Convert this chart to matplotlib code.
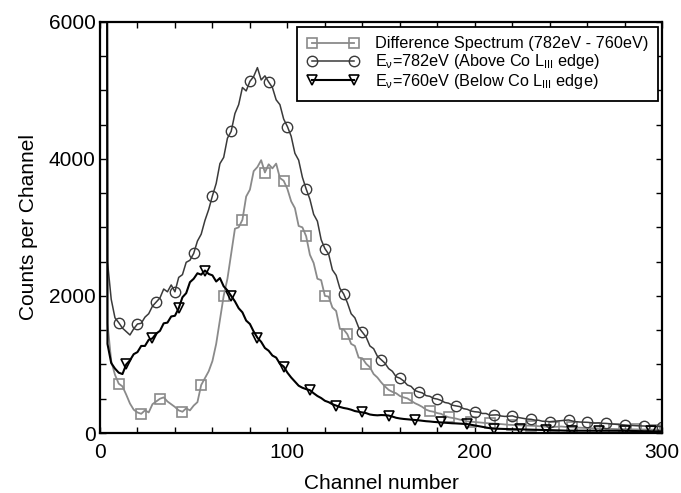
import numpy as np
from matplotlib import pyplot as plt
from matplotlib.ticker import MultipleLocator

plt.rcParams['font.family'] = ['Liberation Sans', 'DejaVu Sans']
plt.rcParams['mathtext.fontset'] = 'custom'
plt.rcParams['mathtext.rm'] = 'Liberation Sans'
plt.rcParams['mathtext.it'] = 'Liberation Sans:italic'

# channel numbers (every second channel)
channels = np.arange(2, 301, 2)

# E = 782 eV, above Co L_III edge
above_782 = [
    60000, 2500, 1950, 1680, 1610, 1530, 1480, 1430, 1520, 1590,
    1600, 1690, 1740, 1850, 1910, 1970, 2100, 2060, 2160, 2060,
    2270, 2310, 2490, 2520, 2620, 2800, 2900, 3100, 3260, 3460,
    3640, 3930, 4020, 4300, 4400, 4660, 4790, 5040, 4990, 5130,
    5200, 5330, 5150, 5210, 5120, 5040, 4860, 4790, 4580, 4470,
    4330, 4080, 3980, 3730, 3560, 3410, 3190, 3090, 2820, 2690,
    2610, 2380, 2300, 2110, 2030, 1900, 1740, 1680, 1540, 1470,
    1400, 1270, 1230, 1120, 1070, 1020, 940, 900, 820, 800,
    760, 700, 680, 620, 600, 585, 545, 535, 505, 495,
    475, 445, 435, 405, 395, 385, 355, 345, 320, 310,
    305, 285, 285, 260, 262, 265, 248, 242, 245, 250,
    232, 222, 212, 203, 200, 188, 186, 172, 170, 165,
    170, 175, 180, 185, 190, 175, 165, 160, 158, 156,
    150, 145, 148, 142, 140, 135, 130, 125, 120, 117,
    112, 110, 106, 104, 102, 100, 98, 96, 95, 94,
]

# difference spectrum (782 eV - 760 eV)
difference = [
    60000, 1600, 1050, 850, 720, 680, 560, 430, 340, 300,
    280, 330, 300, 420, 460, 500, 520, 460, 420, 380,
    330, 310, 360, 330, 400, 450, 700, 800, 900, 1050,
    1300, 1650, 2000, 2250, 2620, 2980, 3000, 3110, 3450, 3550,
    3820, 3880, 3980, 3800, 3920, 3860, 3930, 3720, 3680, 3560,
    3380, 3280, 3020, 3000, 2870, 2600, 2480, 2250, 2230, 2000,
    1990, 1830, 1780, 1520, 1510, 1440, 1300, 1270, 1100, 1090,
    1010, 960, 860, 810, 740, 680, 630, 600, 580, 540,
    520, 505, 470, 435, 410, 380, 340, 320, 310, 290,
    280, 250, 230, 220, 210, 195, 185, 170, 165, 160,
    155, 150, 145, 140, 138, 135, 130, 125, 120, 118,
    115, 112, 110, 108, 106, 104, 100, 95, 92, 90,
    88, 92, 95, 90, 85, 82, 80, 78, 75, 72,
    70, 68, 66, 64, 62, 60, 58, 57, 56, 55,
    54, 53, 52, 51, 50, 50, 49, 48, 48, 47,
]

# E = 760 eV, below Co L_III edge
below_760 = [
    60000, 1300, 1020, 940, 880, 860, 1000, 1060, 1150, 1180,
    1270, 1270, 1360, 1380, 1450, 1490, 1600, 1610, 1700, 1710,
    1820, 1980, 2040, 2200, 2250, 2330, 2310, 2370, 2320, 2300,
    2210, 2260, 2140, 2080, 2000, 1920, 1820, 1760, 1640, 1590,
    1480, 1390, 1330, 1240, 1200, 1130, 1100, 1010, 970, 880,
    810, 750, 690, 660, 640, 625, 580, 540, 510, 470,
    450, 420, 400, 380, 365, 355, 340, 320, 310, 300,
    290, 270, 262, 258, 262, 260, 255, 240, 222, 212,
    205, 200, 195, 190, 185, 178, 172, 168, 162, 158,
    155, 150, 145, 142, 140, 136, 133, 130, 120, 110,
    100, 90, 80, 70, 64, 62, 60, 58, 57, 56,
    55, 54, 52, 50, 48, 47, 46, 45, 44, 42,
    40, 38, 36, 35, 34, 34, 34, 35, 34, 33,
    34, 35, 34, 33, 33, 34, 33, 33, 32, 33,
    32, 30, 28, 27, 26, 25, 25, 24, 24, 24,
]

labels = [
    'Difference Spectrum (782eV - 760eV)',
    r'E$_{\mathrm{ν}}$=782eV (Above Co L$_{\mathrm{III}}$ edge)',
    r'E$_{\mathrm{ν}}$=760eV (Below Co L$_{\mathrm{III}}$ edge)',
]

fig = plt.figure(figsize=(6.81, 4.93), dpi=100)
ax = fig.add_axes([0.1468, 0.1217, 0.8257, 0.8343])

diff_marks = [int(np.argmin(np.abs(channels - c))) for c in range(11, 301, 11)]

ax.plot(channels, difference, color='#8a8a8a', lw=1.3, marker='s', ms=6.5,
        mfc='none', mec='#8a8a8a', mew=1.2, markevery=diff_marks, label=labels[0])
ax.plot(channels, above_782, color='#3a3a3a', lw=1.1, marker='o', ms=7.5,
        mfc='none', mec='#3a3a3a', mew=1.0, markevery=(4, 5), label=labels[1])
ax.plot(channels, below_760, color='black', lw=1.5, marker='v', ms=7,
        mfc='none', mec='black', mew=1.2, markevery=(6, 7), label=labels[2])

ax.set_xlim(0, 300)
ax.set_ylim(0, 6000)
ax.xaxis.set_major_locator(MultipleLocator(100))
ax.xaxis.set_minor_locator(MultipleLocator(20))
ax.yaxis.set_major_locator(MultipleLocator(2000))
ax.yaxis.set_minor_locator(MultipleLocator(500))
ax.tick_params(which='both', direction='in', top=True, right=True,
               length=4, width=1, labelsize=15)
ax.tick_params(axis='x', pad=7)
ax.tick_params(axis='y', pad=3)
for s in ax.spines.values():
    s.set_linewidth(1.6)

ax.set_xlabel('Channel number', fontsize=15, labelpad=9)
ax.set_ylabel('Counts per Channel', fontsize=15, labelpad=8)

leg = ax.legend(loc='upper right', bbox_to_anchor=(0.993, 0.988), borderaxespad=0,
                fontsize=11.7, numpoints=2, handlelength=3.2, handletextpad=1.0,
                labelspacing=0.05, borderpad=0.6, fancybox=False,
                framealpha=1, edgecolor='black')
leg.get_frame().set_linewidth(1.3)

fig.savefig('out.png', dpi=100)
